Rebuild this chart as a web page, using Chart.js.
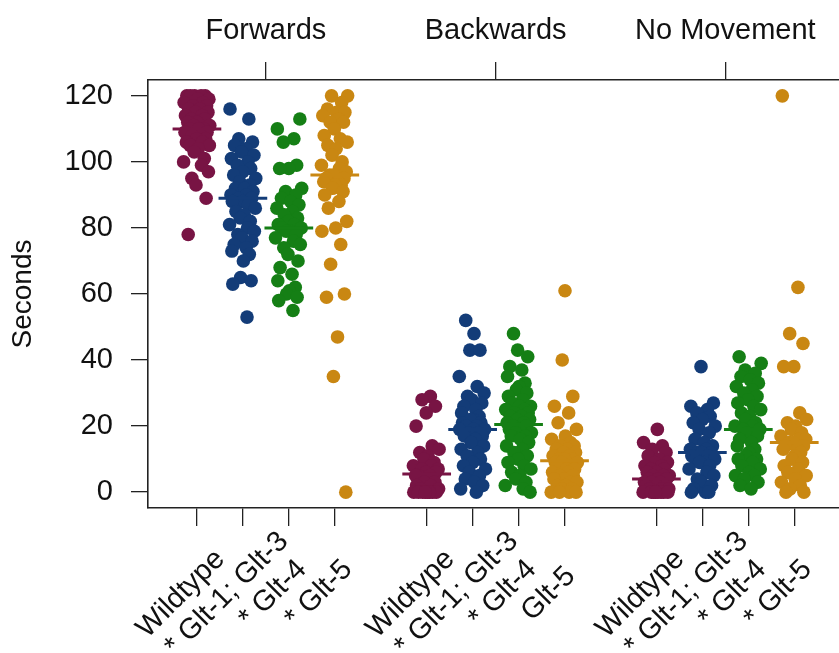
<!DOCTYPE html>
<html>
<head>
<meta charset="utf-8">
<script src="https://cdn.jsdelivr.net/npm/chart.js@4"></script>
<style>
  html, body { margin: 0; padding: 0; background: #fff; overflow: hidden; }
  #wrap { width: 850px; height: 653px; }
</style>
</head>
<body>
<div id="wrap"><canvas id="chart" width="850" height="653"></canvas></div>
<script>
/* --------------- Data --------------------- */
const conditions = ["Forwards", "Backwards", "No Movement"];
const conditionTicks = [2.5, 7.5, 12.5];
const positions = [1, 2, 3, 4, 6, 7, 8, 9, 11, 12, 13, 14];
const genotypeLabels = [
  "Wildtype", "* Glt-1; Glt-3", "* Glt-4", "* Glt-5",
  "Wildtype", "* Glt-1; Glt-3", "* Glt-4", "Glt-5",
  "Wildtype", "* Glt-1; Glt-3", "* Glt-4", "* Glt-5",
];
const yTicks = [0, 20, 40, 60, 80, 100, 120];
const medians = [110, 89, 80, 96, 5.5, 19, 20.5, 9.5, 4, 12, 19, 15];

const fwdWildtype = [120,120,120,120,120,119,119,118,118,117,117,116,116,115,115,114,114,113,113,112,112,111,111,110,110,110,109,109,108,108,107,107,106,106,105,105,104,103,101,100,99,97,95,93,89,78];
const fwdGlt13 = [116,113,107,106,105,104,103,102,101,100,99,98,97,96,95,94,93,92,92,91,90,90,89,89,88,88,87,86,85,84,83,82,81,80,79,78,77,76,75,74,73,72,70,65,64,63,53];
const fwdGlt4 = [113,110,107,106,99,98,98,92,91,90,89,88,87,86,85,84,83,82,81,81,80,80,79,79,78,77,76,75,74,72,70,68,66,64,62,61,60,59,58,55];
const fwdGlt5 = [120,120,118,116,115,115,114,113,112,112,110,108,107,106,105,104,102,100,99,98,97,96,96,95,95,94,94,93,93,92,91,90,88,86,82,80,79,75,69,60,59,47,35,0];
const bwdWildtype = [29,28,26,24,20,14,13,12,11,10,9,8,8,7,7,6,6,5,5,5,4,4,3,3,2,2,1,1,0,0,0,0,0,0,0,0];
const bwdGlt13 = [52,48,43,43,35,32,30,29,28,27,26,25,24,23,22,22,21,21,20,20,19,19,19,18,18,17,17,16,15,14,13,12,11,10,9,8,7,6,5,4,3,2,1,0];
const bwdGlt4 = [48,43,41,38,37,35,33,32,31,30,29,28,27,26,26,25,25,24,24,23,23,22,22,21,21,20,20,19,19,18,18,17,17,16,15,14,13,12,11,10,9,8,7,6,5,4,3,2,1,0];
const bwdGlt5 = [61,40,29,26,24,21,19,17,16,15,14,14,13,13,12,12,11,11,10,10,10,9,9,9,8,8,7,7,6,6,5,5,4,4,3,3,2,2,1,1,0,0,0,0];
const stillWildtype = [19,15,14,13,12,11,10,9,9,8,8,7,7,6,6,5,5,5,4,4,4,3,3,3,2,2,2,1,1,1,0,0,0,0,0,0,0,0];
const stillGlt13 = [38,27,26,25,24,23,22,21,20,19,18,16,15,14,13,13,12,12,12,11,11,10,10,9,9,8,7,6,5,4,3,2,1,0,0,0];
const stillGlt4 = [41,39,37,36,35,34,33,32,31,30,29,28,27,26,25,24,23,22,21,20,20,19,19,18,17,16,15,14,13,12,11,10,10,9,8,7,6,5,5,4,3,2,1];
const stillGlt5 = [120,62,48,45,38,38,24,22,21,20,19,18,17,16,16,15,15,14,14,13,13,12,11,10,9,8,7,6,5,4,3,2,1,0,0];

const groups = [fwdWildtype, fwdGlt13, fwdGlt4, fwdGlt5, bwdWildtype, bwdGlt13, bwdGlt4, bwdGlt5, stillWildtype, stillGlt13, stillGlt4, stillGlt5];

/* fixed horizontal spread for the strip points */
const jitter = [-0.05,0.18,-0.22,0.09,-0.14,0.26,0.02,-0.28,0.13,-0.09,0.21,-0.18,0.06,-0.03,0.24,-0.25,0.11,-0.12,0.17,0.0,-0.2,0.28,-0.07,0.15,-0.16,0.04,0.22,-0.26,0.08,-0.1,0.19,-0.01,-0.23,0.12,0.27,-0.15,0.03,-0.06,0.16,-0.29,0.1,0.25,-0.11,-0.02,0.2,-0.19,0.07,-0.24,0.14,0.01];

const genotypeColors = ["#781444", "#133C78", "#157F15", "#C98712"];

/* --------------- Datasets --------------------- */
const FONT = "'Liberation Sans', Arial, Helvetica, sans-serif";
const datasets = [];
groups.forEach((vals, g) => {
  const color = genotypeColors[g % 4];
  datasets.push({
    type: "scatter",
    data: vals.map((v, i) => ({ x: positions[g] + jitter[(i + g * 7) % jitter.length], y: v })),
    backgroundColor: color,
    borderWidth: 0,
    pointRadius: 6.8,
    pointHoverRadius: 6.8,
    order: 2,
  });
});
groups.forEach((vals, g) => {
  datasets.push({
    type: "line",
    data: [{ x: positions[g] - 0.53, y: medians[g] }, { x: positions[g] + 0.53, y: medians[g] }],
    borderColor: genotypeColors[g % 4],
    borderWidth: 3,
    pointRadius: 0,
    order: 1,
  });
});

/* --------------- Rotated genotype labels --------------------- */
const genotypeLabelPlugin = {
  id: "genotypeLabels",
  afterDraw(chart) {
    const ctx = chart.ctx;
    const xs = chart.scales.x;
    ctx.save();
    ctx.fillStyle = "#111";
    ctx.font = "29px " + FONT;
    ctx.textAlign = "center";
    ctx.textBaseline = "middle";
    genotypeLabels.forEach((lab, i) => {
      const px = xs.getPixelForValue(positions[i]) - 16;
      ctx.save();
      ctx.translate(px, 594);
      ctx.rotate(-Math.PI / 4);
      ctx.fillText(lab, 0, 0);
      ctx.restore();
    });
    ctx.restore();
  },
};

const axisGrid = { drawOnChartArea: false, drawTicks: true, tickLength: 18, color: "#222", lineWidth: 1.3 };
const axisBorder = { display: true, color: "#222", width: 1.6 };

new Chart(document.getElementById("chart"), {
  data: { datasets },
  plugins: [genotypeLabelPlugin],
  options: {
    responsive: false,
    animation: false,
    devicePixelRatio: 1,
    layout: { padding: { left: 0, right: 6, top: 0, bottom: 0 } },
    plugins: { legend: { display: false }, tooltip: { enabled: false } },
    scales: {
      x: {
        type: "linear",
        position: "bottom",
        min: -0.065,
        max: 15.065,
        afterBuildTicks: (s) => { s.ticks = positions.map((v) => ({ value: v })); },
        ticks: { display: false },
        grid: axisGrid,
        border: axisBorder,
        afterFit: (s) => { s.height = 145; },
      },
      x2: {
        type: "linear",
        position: "top",
        min: -0.065,
        max: 15.065,
        afterBuildTicks: (s) => { s.ticks = conditionTicks.map((v) => ({ value: v })); },
        ticks: {
          callback: (v, i) => conditions[i],
          font: { family: FONT, size: 29 },
          color: "#111",
          padding: 14,
          maxRotation: 0,
          autoSkip: false,
        },
        grid: axisGrid,
        border: axisBorder,
        afterFit: (s) => { s.height = 80; },
      },
      y: {
        type: "linear",
        min: -4.8,
        max: 124.8,
        afterBuildTicks: (s) => { s.ticks = yTicks.map((v) => ({ value: v })); },
        ticks: { font: { family: FONT, size: 29 }, color: "#111", padding: 18 },
        grid: { drawOnChartArea: false, drawTicks: true, tickLength: 17, color: "#222", lineWidth: 1.3 },
        border: axisBorder,
        title: {
          display: true,
          text: "Seconds",
          font: { family: FONT, size: 28 },
          color: "#111",
          padding: { top: 6, bottom: 0 },
        },
        afterFit: (s) => { s.width = 148; },
      },
    },
  },
});
</script>
</body>
</html>
